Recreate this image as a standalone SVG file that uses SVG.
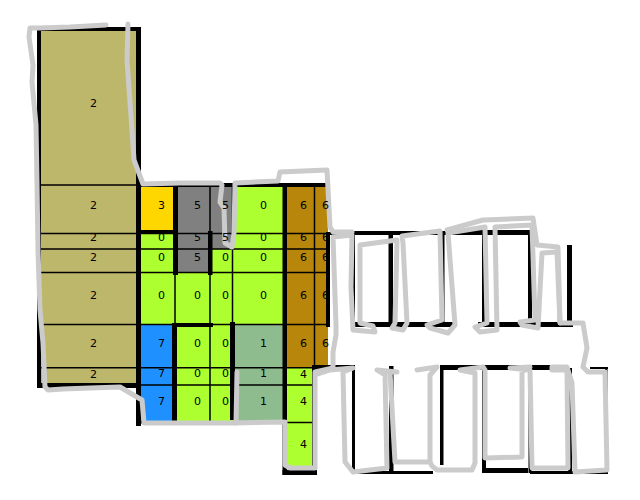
<svg xmlns="http://www.w3.org/2000/svg" width="640" height="500" viewBox="0 0 640 500">
<style>
text{font-family:"DejaVu Sans",sans-serif;font-size:11px;text-anchor:middle;fill:#000}
.w{fill:none;stroke:#cbcbcb;stroke-width:5;stroke-linejoin:round;stroke-linecap:round}
.t{fill:none;stroke:#000;stroke-width:1.5}
.k{fill:#000}
</style>
<rect width="640" height="500" fill="#fff"/>
<g id="rooms">
<rect x="40" y="31" width="97" height="353" fill="#bdb76b"/>
<rect x="141" y="187" width="32" height="43" fill="#ffd700"/>
<rect x="141" y="233" width="32" height="92" fill="#adff2f"/>
<rect x="141" y="325" width="32" height="97" fill="#1e90ff"/>
<rect x="173" y="187" width="60" height="62" fill="#808080"/>
<rect x="210" y="249" width="23" height="24" fill="#adff2f"/>
<rect x="173" y="249" width="37" height="24" fill="#808080"/>
<rect x="173" y="273" width="60" height="148" fill="#adff2f"/>
<rect x="233" y="187" width="50" height="138" fill="#adff2f"/>
<rect x="233" y="325" width="50" height="96" fill="#8fbc8f"/>
<rect x="287" y="187" width="41" height="181" fill="#b8860b"/>
<rect x="287" y="368" width="25" height="98" fill="#adff2f"/>
</g>
<g id="thin-lines">
<path class="t" d="M41 185H137M41 233.500H328M41 249H328M41 272.500H328M41 324.500H328M41 367.700H312M41 385H312M287 422.500H312"/>
<path class="t" d="M175 273V325M210 187V421M232.500 183V323M314.500 187V367"/>
</g>
<g id="black-walls">
<rect class="k" x="37" y="27" width="4" height="361"/>
<rect class="k" x="37" y="27" width="104" height="4"/>
<rect class="k" x="136" y="27" width="5" height="399"/>
<rect class="k" x="41" y="383" width="96" height="5"/>
<rect class="k" x="136" y="421" width="150" height="2.500"/>
<rect class="k" x="136" y="183" width="192" height="4"/>
<rect class="k" x="141" y="230" width="36" height="3.500"/>
<rect class="k" x="173" y="187" width="5" height="88"/>
<rect class="k" x="208" y="231" width="4.500" height="44"/>
<rect class="k" x="172" y="323" width="5" height="100"/>
<rect class="k" x="173" y="323" width="40" height="4"/>
<rect class="k" x="230" y="322" width="5" height="98"/>
<rect class="k" x="282.500" y="183" width="4.500" height="292"/>
<rect class="k" x="282.500" y="470" width="34.500" height="5"/>
<rect class="k" x="312" y="365" width="4" height="105"/>
<rect class="k" x="312" y="365" width="41" height="5"/>
<rect class="k" x="326" y="232" width="4" height="95"/>
<rect class="k" x="352" y="365" width="3" height="108"/>
<rect class="k" x="352" y="232" width="3" height="95"/>
<rect class="k" x="330" y="231" width="118" height="4"/>
<rect class="k" x="388.500" y="232" width="4.500" height="95"/>
<rect class="k" x="442" y="232" width="2.500" height="95"/>
<rect class="k" x="352" y="322" width="103" height="5"/>
<rect class="k" x="448" y="230" width="84" height="5"/>
<rect class="k" x="482" y="230" width="4" height="95"/>
<rect class="k" x="528" y="230" width="4" height="95"/>
<rect class="k" x="478" y="322" width="95" height="5"/>
<rect class="k" x="567" y="245" width="5" height="80"/>
<rect class="k" x="389" y="366" width="4.500" height="108"/>
<rect class="k" x="353" y="471" width="80" height="3"/>
<rect class="k" x="440" y="365" width="3.500" height="100"/>
<rect class="k" x="440" y="365" width="20" height="5"/>
<rect class="k" x="460" y="365" width="90" height="5"/>
<rect class="k" x="482" y="366" width="4" height="107"/>
<rect class="k" x="482" y="468" width="46" height="5"/>
<rect class="k" x="528.500" y="368" width="3" height="105"/>
<rect class="k" x="568" y="368" width="4" height="105"/>
<rect class="k" x="530" y="471" width="78" height="3"/>
<rect class="k" x="605" y="367" width="2.500" height="105"/>
<rect class="k" x="590" y="367" width="18" height="2"/>
</g>
<g id="grey-outline">
<path class="w" d="M106 25L70 27L40 28L30 28L29 37L33 65L32 82L36 125L37 182L38 250L40 310L43 343L45 387L48 390L63 389L90 388L120 387L142 400L144 423L180 423L233 423L285 422L285 465L290 468L315 468L315 372L333 368L333 352L336 335L336 325L333 237L352 235L351 287L353 330L375 332L373 326L360 323L360 245L397 240L395 323L392 328L403 330L407 323L403 243L402 236L440 231L442 320L427 325L430 328L448 333L455 325L448 233L485 227L487 323L475 327L480 332L497 330L495 227L532 225L535 320L520 322L522 325L538 328L542 253L557 252L560 323L583 323L587 348L583 367L588 372L605 372L607 470L575 472L572 383L567 367L552 367L552 370L567 370L568 468L532 468L530 370L510 368L530 367L522 372L522 457L485 458L485 370L483 367L460 370L475 373L475 463L472 470L437 470L432 466L430 462L395 462L390 372L397 372L377 370L385 375L387 468L353 472L345 462L343 372L353 368L330 370L315 375"/>
<path class="w" d="M417 370L437 367L430 375L430 462"/>
<path class="w" d="M237 372L236 423"/>
<path class="w" d="M128 24L127 60L132 130L134 160L143 184L180 183L220 183L222 185L220 202L224 208L225 243L232 247L234 233L235 183L278 181L280 172L327 170L330 227L333 232L352 232"/>
<path class="w" d="M447 230L483 220L533 218L537 245L558 247L560 323"/>
</g>
<g id="labels" transform="translate(0.500 0)">
<text x="93" y="107">2</text><text x="93" y="209">2</text><text x="93" y="241">2</text><text x="93" y="261">2</text><text x="93" y="299">2</text><text x="93" y="347">2</text><text x="93" y="378">2</text>
<text x="161" y="209">3</text><text x="161" y="241">0</text><text x="161" y="261">0</text><text x="161" y="299">0</text><text x="161" y="347">7</text><text x="161" y="377">7</text><text x="161" y="405">7</text>
<text x="197" y="209">5</text><text x="197" y="241">5</text><text x="197" y="261">5</text><text x="197" y="299">0</text><text x="197" y="347">0</text><text x="197" y="377">0</text><text x="197" y="405">0</text>
<text x="225" y="209">5</text><text x="225" y="241">5</text><text x="225" y="261">0</text><text x="225" y="299">0</text><text x="225" y="347">0</text><text x="225" y="377">0</text><text x="225" y="405">0</text>
<text x="263" y="209">0</text><text x="263" y="241">0</text><text x="263" y="261">0</text><text x="263" y="299">0</text><text x="263" y="347">1</text><text x="263" y="377">1</text><text x="263" y="405">1</text>
<text x="303" y="209">6</text><text x="303" y="241">6</text><text x="303" y="261">6</text><text x="303" y="299">6</text><text x="303" y="347">6</text><text x="303" y="378">4</text><text x="303" y="405">4</text><text x="303" y="448">4</text>
<text x="325" y="209">6</text><text x="325" y="241">6</text><text x="325" y="261">6</text><text x="325" y="299">6</text><text x="325" y="347">6</text>
</g>
</svg>
